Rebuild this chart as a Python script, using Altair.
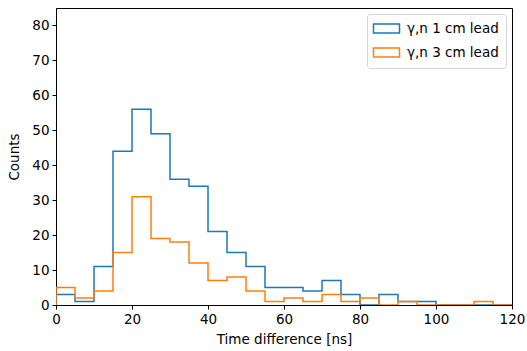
import altair as alt
import pandas as pd

edges = list(range(0, 125, 5))
blue_counts = [3, 1, 11, 44, 56, 49, 36, 34, 21, 15, 11, 5, 5, 4, 7, 3, 0, 3, 1, 1, 0, 0, 0, 0]
orange_counts = [5, 2, 4, 15, 31, 19, 18, 12, 7, 8, 4, 1, 2, 1, 3, 1, 2, 0, 1, 0, 0, 0, 1, 0]
series_names = ["γ,n 1 cm lead", "γ,n 3 cm lead"]
colors = ["#1f77b4", "#ff7f0e"]

rows = []
for name, counts in zip(series_names, [blue_counts, orange_counts]):
    pts = [(edges[0], 0)] + [(edges[i], c) for i, c in enumerate(counts)] + [(edges[-1], 0)]
    for k, (x, y) in enumerate(pts):
        rows.append({"series": name, "x": x, "y": y, "idx": k})
df = pd.DataFrame(rows)

font = "DejaVu Sans"
fs = 13.5

chart = alt.Chart(df).mark_line(interpolate="step-after", strokeWidth=1.5, clip=True).encode(
    x=alt.X("x:Q", scale=alt.Scale(domain=[0, 120], nice=False, zero=False),
            axis=alt.Axis(values=list(range(0, 121, 20)), title="Time difference [ns]")),
    y=alt.Y("y:Q", scale=alt.Scale(domain=[0, 85], nice=False),
            axis=alt.Axis(values=list(range(0, 81, 10)), title="Counts")),
    stroke=alt.Stroke("series:N", scale=alt.Scale(domain=series_names, range=colors),
                      legend=alt.Legend(title=None, orient="top-right", offset=6,
                                        symbolType="M-2,-0.7H2V0.7H-2Z", symbolSize=169,
                                        symbolStrokeWidth=1.5, symbolFillColor="transparent",
                                        symbolOffset=5, labelOffset=13, padding=7, rowPadding=7,
                                        fillColor="white", strokeColor="#d5d5d5", cornerRadius=3,
                                        labelFont=font, labelFontSize=fs, labelColor="black")),
    order="idx:Q",
).properties(
    width=456, height=297,
    autosize=alt.AutoSizeParams(type="none"),
    padding={"left": 56, "top": 8, "right": 15, "bottom": 46},
).configure_view(
    stroke="black", strokeWidth=1
).configure_axis(
    grid=False, domainColor="black", tickColor="black", tickSize=4, labelColor="black",
    labelFont=font, labelFontSize=fs, titleFont=font, titleFontSize=fs, titleFontWeight="normal",
    titleColor="black", labelPadding=3,
).configure_axisX(
    titlePadding=7, labelFlush=False
).configure_axisY(
    titlePadding=10, labelFlush=False
)

chart.save("out.html", embed_options={"renderer": "svg", "actions": False})
